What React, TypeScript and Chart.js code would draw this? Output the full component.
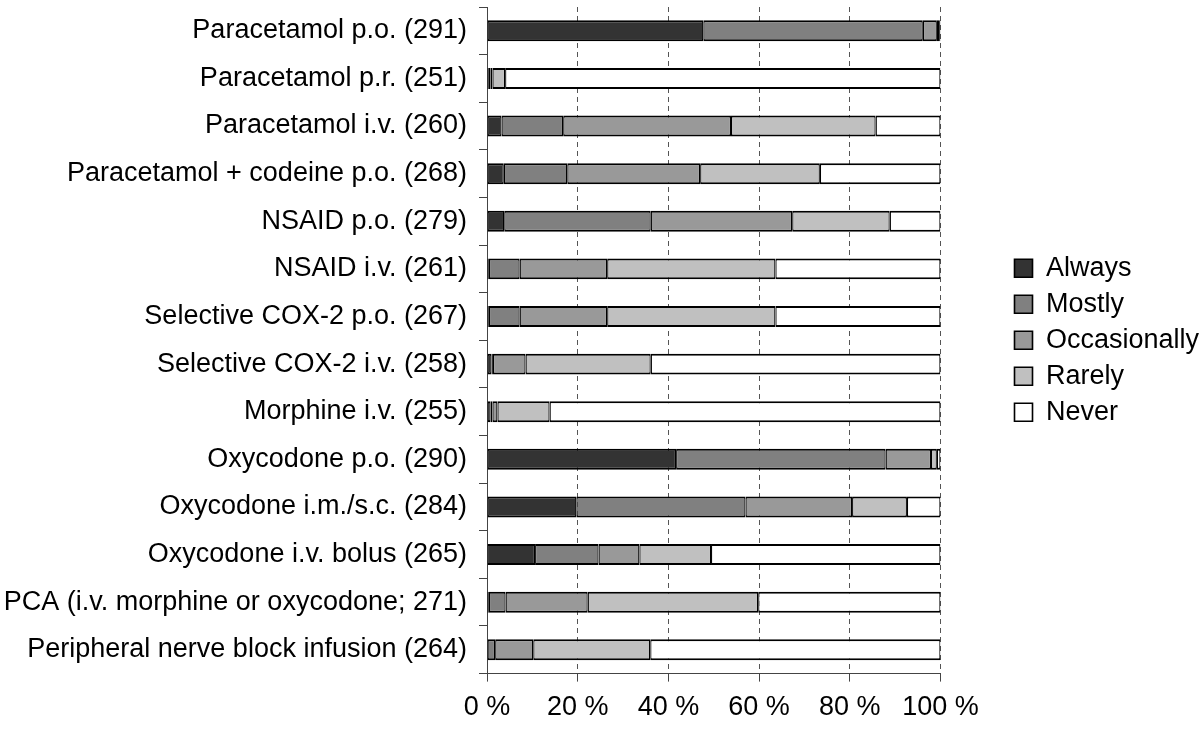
import React, { useEffect, useRef } from "react";
import { Chart, registerables } from "chart.js";

Chart.register(...registerables);

const categories = [
  "Paracetamol p.o. (291)",
  "Paracetamol p.r. (251)",
  "Paracetamol i.v. (260)",
  "Paracetamol + codeine p.o. (268)",
  "NSAID p.o. (279)",
  "NSAID i.v. (261)",
  "Selective COX-2 p.o. (267)",
  "Selective COX-2 i.v. (258)",
  "Morphine i.v. (255)",
  "Oxycodone p.o. (290)",
  "Oxycodone i.m./s.c. (284)",
  "Oxycodone i.v. bolus (265)",
  "PCA (i.v. morphine or oxycodone; 271)",
  "Peripheral nerve block infusion (264)",
];

const always = [47.7, 0.4, 3.2, 3.7, 3.8, 0.4, 0.4, 1.0, 0.8, 41.7, 19.7, 10.6, 0.4, 0];
const mostly = [48.4, 0.4, 13.6, 14.0, 32.3, 6.8, 6.8, 0.3, 0.4, 46.2, 37.3, 14.0, 3.7, 1.8];
const occasionally = [3.1, 0.4, 37.0, 29.3, 31.2, 19.3, 19.3, 7.2, 1.1, 10.0, 23.5, 9.0, 18.1, 8.4];
const rarely = [0.5, 2.8, 31.9, 26.4, 21.5, 37.1, 37.1, 27.6, 11.5, 1.3, 12.1, 15.8, 37.6, 25.8];
const never = [0.3, 96.0, 14.3, 26.6, 11.2, 36.4, 36.4, 63.9, 86.2, 0.8, 7.4, 50.6, 40.2, 64.0];

const seriesNames = ["Always", "Mostly", "Occasionally", "Rarely", "Never"];
const seriesColors = ["#333333", "#808080", "#999999", "#c0c0c0", "#ffffff"];
const seriesValues = [always, mostly, occasionally, rarely, never];

const xTicks = [0, 20, 40, 60, 80, 100];

const FONT = "'Liberation Sans', Arial, Helvetica, sans-serif";
const FS = 27;

export default function App() {
  const ref = useRef<HTMLCanvasElement | null>(null);

  useEffect(() => {
    if (!ref.current) return;
    const chart = new Chart(ref.current, {
      type: "bar",
      data: {
        labels: categories,
        datasets: seriesNames.map((name, i) => ({
          label: name,
          data: seriesValues[i],
          backgroundColor: seriesColors[i],
          borderColor: "#000000",
          borderWidth: { top: 2, bottom: 2, left: 1.25, right: 1.25 },
          borderSkipped: false,
          barPercentage: 0.44,
          categoryPercentage: 1,
        })),
      },
      options: {
        indexAxis: "y",
        animation: false,
        responsive: true,
        maintainAspectRatio: false,
        layout: { padding: { top: 7, bottom: -3, left: 3, right: -6 } },
        plugins: {
          tooltip: { enabled: false },
          legend: {
            display: true,
            position: "right",
            align: "center",
            fullSize: false,
            labels: {
              boxWidth: 18,
              boxHeight: 18,
              padding: 9,
              color: "#000000",
              font: { family: FONT, size: FS },
            },
          },
        },
        scales: {
          x: {
            type: "linear",
            stacked: true,
            min: 0,
            max: 100,
            afterBuildTicks: (s: any) => {
              s.ticks = xTicks.map((v) => ({ value: v }));
            },
            ticks: {
              padding: 10,
              color: "#000000",
              font: { family: FONT, size: FS },
              callback: (v: any) => v + " %",
            },
            grid: {
              display: true,
              drawOnChartArea: true,
              drawTicks: true,
              tickLength: 8,
              color: "#555555",
              tickColor: "#444444",
              lineWidth: 1,
            },
            border: { display: true, color: "#444444", width: 1, dash: [5, 4] },
          },
          y: {
            type: "category",
            stacked: true,
            afterFit: (s: any) => {
              s.width = 484;
              s.paddingTop = 0;
              s.paddingBottom = 0;
            },
            ticks: {
              padding: 12,
              color: "#000000",
              font: { family: FONT, size: FS },
            },
            grid: {
              display: true,
              offset: true,
              drawOnChartArea: false,
              drawTicks: true,
              tickLength: 8,
              color: "#444444",
              tickColor: "#444444",
            },
            border: { display: true, color: "#444444", width: 1 },
          },
          pad: {
            type: "linear",
            position: "right",
            display: true,
            grid: { display: false },
            border: { display: false },
            ticks: { display: false },
            afterFit: (s: any) => {
              s.width = 65;
              s.paddingTop = 0;
              s.paddingBottom = 0;
            },
          },
        },
      } as any,
    });
    return () => chart.destroy();
  }, []);

  return (
    <div style={{ position: "absolute", left: 0, top: 0, width: 1200, height: 731, background: "#ffffff" }}>
      <canvas ref={ref} />
    </div>
  );
}
